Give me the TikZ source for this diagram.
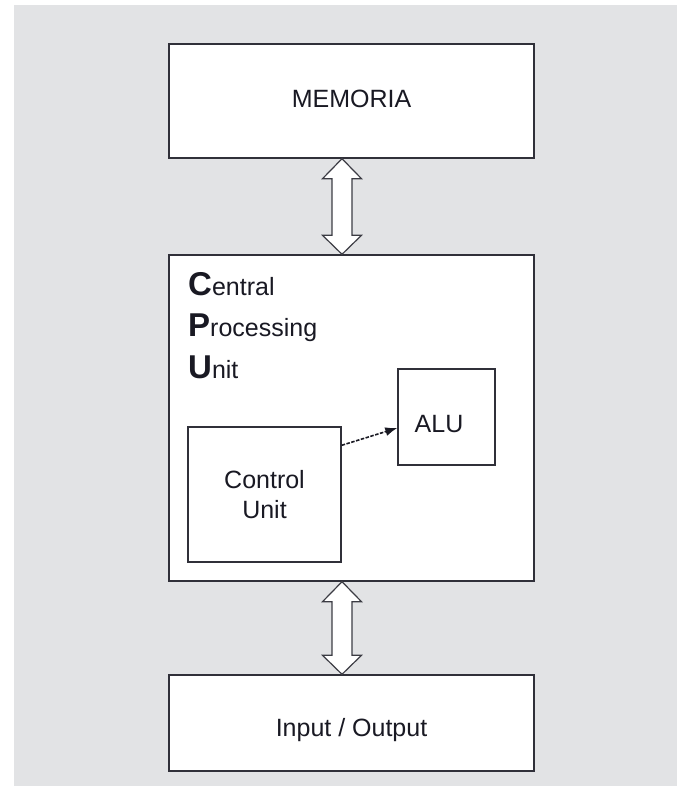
\documentclass[tikz,border=0pt]{standalone}
\usepackage{fontspec}
\setmainfont{Liberation Sans}
\usetikzlibrary{calc,arrows.meta}
\definecolor{marble}{RGB}{226,227,229}
\definecolor{ink}{RGB}{25,25,35}
\tikzset{
  box/.style={draw=ink!90, line width=1.4pt, fill=white, inner sep=0pt, font=\fontsize{25}{30}\selectfont, text=ink, align=center},
  bus/.style={draw=ink!85, line width=1.2pt, fill=white, line join=miter},
  ctl/.style={draw=ink, line width=1.6pt, dash pattern=on 3.5pt off 1.5pt, -{Latex[length=12pt,width=9pt]}}
}
\newcommand{\initl}[1]{{\fontsize{33}{33}\selectfont\bfseries #1}}
\begin{document}
\begin{tikzpicture}[x=1pt,y=-1pt]
\useasboundingbox (0,0) rectangle (677,786);
\fill[white] (0,0) rectangle (677,786);
\fill[marble] (14,5) rectangle (677,786);
% boxes
\node[box, minimum width=365pt, minimum height=114pt, text depth=5pt] (mem) at (351.5,101) {MEMORIA};
\node[box, minimum width=365pt, minimum height=326pt] (cpu) at (351.5,418) {};
\node[box, minimum width=97pt, minimum height=96pt, text height=31pt] (alu) at (446.5,417) {ALU\hspace*{15pt}};
\node[box, minimum width=153pt, minimum height=135pt] (cu) at (264.5,494.5) {Control\\Unit};
\node[box, minimum width=365pt, minimum height=96pt, text height=33pt] (io) at (351.5,723) {Input / Output};
% CPU title
\node[anchor=north west, inner sep=0pt, align=left, text=ink, font=\fontsize{25}{41.5}\selectfont] (title) at (188,272)
  {\initl{C}entral\\\initl{P}rocessing\\\initl{U}nit};
% buses
\foreach \a/\b in {mem/cpu, cpu/io}{
  \draw[bus] let \p1=($(\a.south)+(-9.5,0)$), \p2=($(\b.north)+(-9.5,0)$) in
    (\x1,\y1) -- (\x1+19.5,\y1-20) -- (\x1+10,\y1-20) -- (\x1+10,\y2+19) -- (\x1+19.5,\y2+19)
    -- (\x2,\y2) -- (\x1-19.5,\y2+19) -- (\x1-10,\y2+19) -- (\x1-10,\y1-20) -- (\x1-19.5,\y1-20) -- cycle;
}
% control arrow
\draw[ctl] ($(cu.north east)+(0,19)$) -- ($(alu.west)+(0,11)$);
\end{tikzpicture}
\end{document}
